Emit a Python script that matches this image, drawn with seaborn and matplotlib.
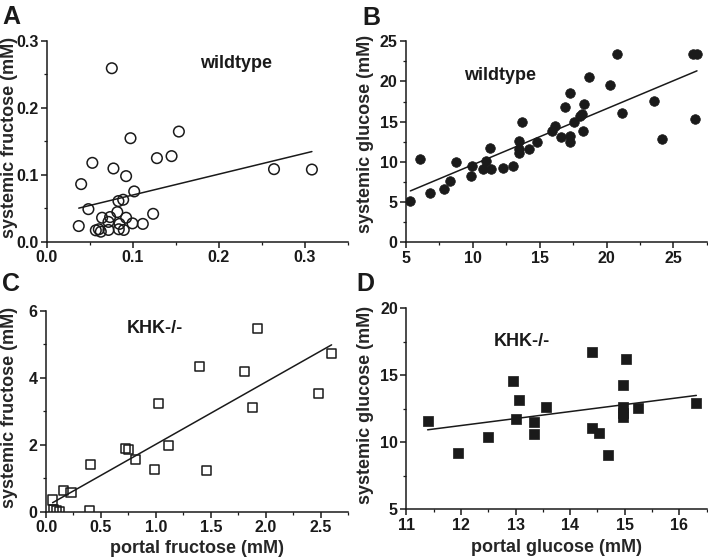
import numpy as np
import matplotlib
matplotlib.use("Agg")
import matplotlib.pyplot as plt
from matplotlib.ticker import MultipleLocator
import seaborn as sns

# ==================== data ====================
# A: wildtype fructose (portal vs systemic, mM)
wt_fru_portal = [0.0756, 0.1535, 0.0973, 0.128, 0.145, 0.053, 0.0775, 0.0922, 0.040,
                 0.1016, 0.264, 0.308, 0.0833, 0.0888, 0.0484, 0.1236, 0.082, 0.0372,
                 0.0643, 0.0736, 0.0922, 0.0717, 0.0845, 0.0996, 0.1116, 0.057, 0.0605,
                 0.0628, 0.0717, 0.0837, 0.0895]
wt_fru_systemic = [0.259, 0.1646, 0.1547, 0.125, 0.128, 0.118, 0.1096, 0.0982, 0.0863,
                   0.0754, 0.1086, 0.108, 0.061, 0.063, 0.049, 0.042, 0.0446, 0.0238,
                   0.0362, 0.0372, 0.0362, 0.030, 0.027, 0.0278, 0.027, 0.0174, 0.019,
                   0.0154, 0.018, 0.019, 0.018]

# B: wildtype glucose
wt_glc_portal = [5.33, 6.08, 6.76, 7.86, 8.26, 8.71, 9.89, 9.96, 10.74, 10.97, 11.32,
                 11.37, 12.22, 12.97, 13.42, 13.42, 13.42, 13.68, 14.17, 14.77, 15.9,
                 16.16, 16.6, 16.86, 17.28, 17.28, 17.28, 17.6, 18.04, 18.16, 18.29,
                 18.23, 18.66, 20.24, 20.79, 21.17, 23.55, 24.17, 26.46, 26.76, 26.63]
wt_glc_systemic = [5.17, 10.32, 6.13, 6.59, 7.66, 10.02, 8.25, 9.49, 9.08, 10.15, 11.77,
                   9.08, 9.28, 9.53, 12.64, 11.57, 11.07, 14.93, 11.6, 12.51, 13.88,
                   14.47, 13.14, 16.87, 18.53, 13.26, 12.48, 15.0, 15.7, 15.96, 17.24,
                   13.88, 20.56, 19.6, 23.4, 16.12, 17.57, 12.89, 23.4, 23.4, 15.34]

# C: KHK-/- fructose
ko_fru_portal = [1.922, 2.60, 1.40, 1.81, 2.48, 1.024, 1.883, 1.117, 0.725, 0.754,
                 0.814, 0.404, 0.991, 1.464, 0.06, 0.162, 0.228, 0.066, 0.096, 0.126,
                 0.398]
ko_fru_systemic = [5.48, 4.72, 4.34, 4.19, 3.54, 3.23, 3.11, 1.98, 1.88, 1.86,
                   1.55, 1.41, 1.26, 1.24, 0.35, 0.63, 0.58, 0.05, 0.02, 0.0,
                   0.03]

# D: KHK-/- glucose
ko_glc_portal = [11.39, 11.94, 12.50, 12.95, 13.07, 13.01, 13.34, 13.34, 13.56, 14.40,
                 15.02, 14.96, 14.96, 14.96, 14.96, 15.25, 14.40, 14.52, 14.69, 16.31]
ko_glc_systemic = [11.59, 9.18, 10.42, 14.55, 13.16, 11.74, 11.54, 10.62, 12.61, 16.74,
                   16.19, 14.30, 12.6, 12.2, 11.85, 12.59, 11.04, 10.72, 9.03, 12.94]

INK = "#1a1a1a"
W, H = 708, 557

sns.set_style("ticks")
plt.rcParams["font.family"] = ["Liberation Sans", "DejaVu Sans"]
plt.rcParams["font.weight"] = "bold"
plt.rcParams["axes.linewidth"] = 1.1
plt.rcParams["axes.edgecolor"] = INK
plt.rcParams["xtick.color"] = INK
plt.rcParams["ytick.color"] = INK
plt.rcParams["text.color"] = INK


def panel(rect, x, y, marker, filled, size, xlim, ylim, xmaj, xmin, ymaj, ymin,
          ylabel, ylab_pos, xlabel, xlab_pos, note, note_xy, letter, letter_xy,
          fmt_x=None, fmt_y=None):
    ax = fig.add_axes(rect)
    sns.regplot(x=x, y=y, ax=ax, ci=None, scatter=False, truncate=True,
                line_kws={"color": INK, "linewidth": 1.1})
    if filled:
        sns.scatterplot(x=x, y=y, ax=ax, marker=marker, s=size, color=INK,
                        edgecolor=INK, linewidth=0.5, zorder=3)
    else:
        ax.scatter(x, y, marker=marker, s=size, facecolors="none", edgecolors=INK,
                   linewidths=1.1, zorder=3)
    ax.set_xlim(*xlim)
    ax.set_ylim(*ylim)
    ax.xaxis.set_major_locator(MultipleLocator(xmaj))
    ax.xaxis.set_minor_locator(MultipleLocator(xmin))
    ax.yaxis.set_major_locator(MultipleLocator(ymaj))
    ax.yaxis.set_minor_locator(MultipleLocator(ymin))
    if fmt_x:
        ax.xaxis.set_major_formatter(fmt_x)
    if fmt_y:
        ax.yaxis.set_major_formatter(fmt_y)
    ax.tick_params(which="major", length=4, width=1.1, labelsize=11.5, pad=2)
    ax.tick_params(which="minor", length=2.5, width=0.9)
    for lab in ax.get_xticklabels() + ax.get_yticklabels():
        lab.set_fontweight("bold")
    sns.despine(ax=ax)
    ax.set_ylabel(ylabel, fontsize=13, fontweight="bold")
    ax.yaxis.set_label_coords(*ylab_pos)
    ax.set_xlabel(xlabel, fontsize=13, fontweight="bold")
    if xlab_pos:
        ax.xaxis.set_label_coords(*xlab_pos)
    ax.text(note_xy[0], note_xy[1], note, fontsize=13, fontweight="bold",
            ha="center", va="center")
    fig.text(letter_xy[0], letter_xy[1], letter, fontsize=18, fontweight="bold",
             ha="left", va="center")
    return ax


fig = plt.figure(figsize=(W / 100, H / 100), dpi=100)

f1 = plt.FuncFormatter(lambda v, p: f"{v:.1f}")
f0 = plt.FuncFormatter(lambda v, p: f"{v:.0f}")

panel([0.066, 0.5655, 0.4256, 0.3614], wt_fru_portal, wt_fru_systemic, "o", False, 58,
      (0, 0.35), (0, 0.3), 0.1, 0.05, 0.1, 0.05,
      "systemic fructose (mM)", (-0.096, 0.52), "", None, "wildtype", (0.22, 0.266),
      "A", (0.003, 1 - 17 / H), f1, f1)

panel([0.5734, 0.565, 0.425, 0.361], wt_glc_portal, wt_glc_systemic, "o", True, 48,
      (5, 27.5), (0, 25), 5, 2.5, 5, 2.5,
      "systemic glucose (mM)", (-0.106, 0.54), "", None, "wildtype", (12.05, 20.7),
      "B", (0.512, 1 - 18 / H), f0, f0)

panel([0.065, 0.0813, 0.4266, 0.3603], ko_fru_portal, ko_fru_systemic, "s", False, 44,
      (0, 2.75), (0, 6), 0.5, 0.25, 2, 1,
      "systemic fructose (mM)", (-0.094, 0.52), "portal fructose (mM)", (0.50, -0.14),
      "KHK-/-", (0.99, 5.48),
      "C", (0.003, 1 - 284 / H), f1, f0)

panel([0.5739, 0.0856, 0.4243, 0.361], ko_glc_portal, ko_glc_systemic, "s", True, 44,
      (11, 16.5), (5, 20), 1, 0.5, 5, 2.5,
      "systemic glucose (mM)", (-0.107, 0.52), "portal glucose (mM)", (0.50, -0.15),
      "KHK-/-", (13.12, 17.5),
      "D", (0.504, 1 - 284 / H), f0, f0)

fig.savefig("out.png", dpi=100)
